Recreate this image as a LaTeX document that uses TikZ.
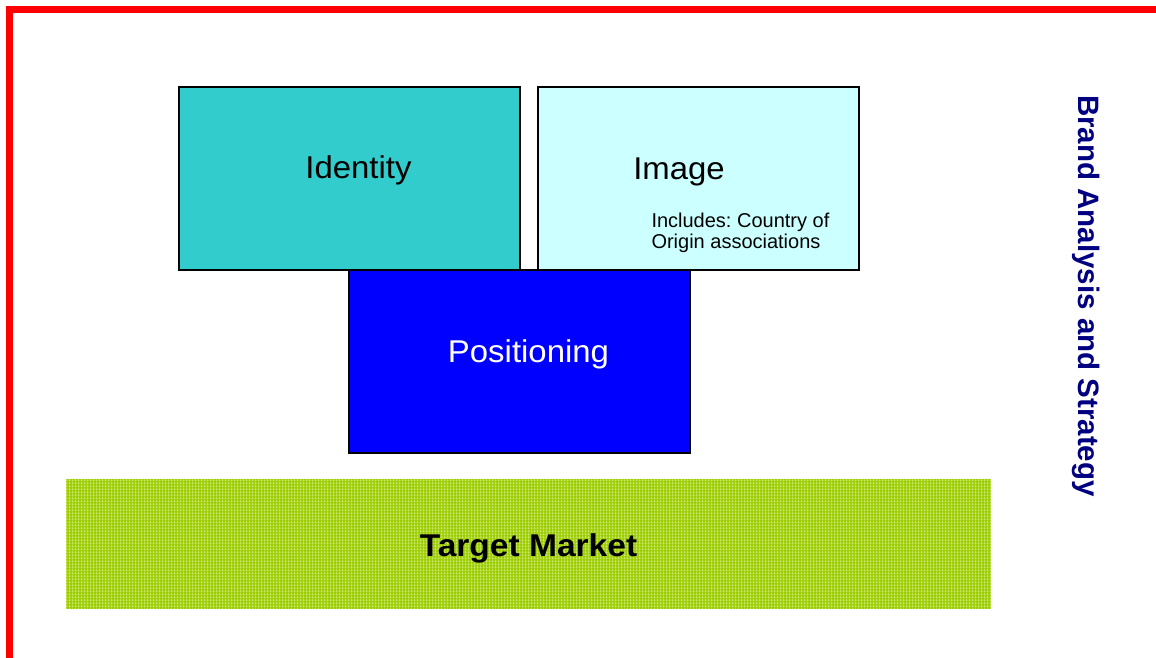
\documentclass[tikz,border=0pt]{standalone}
\usepackage{fontspec}
\setmainfont{Liberation Sans}
\newfontfamily\widefont[FakeStretch=1.045]{Liberation Sans}
\newfontfamily\widebold[FakeStretch=1.065]{Liberation Sans Bold}
\usetikzlibrary{patterns}
\definecolor{identc}{RGB}{51,204,204}
\definecolor{imagec}{RGB}{204,255,255}
\definecolor{posc}{RGB}{0,0,255}
\definecolor{tmgreen}{RGB}{158,206,8}
\definecolor{tmlight}{RGB}{212,236,130}
\definecolor{navyc}{RGB}{0,0,128}
\definecolor{framered}{RGB}{255,0,0}
\pgfdeclarepatternformonly{tmgrid}{\pgfqpoint{0pt}{0pt}}{\pgfqpoint{3pt}{3pt}}{\pgfqpoint{3pt}{3pt}}{%
  \pgfpathrectangle{\pgfqpoint{0pt}{0pt}}{\pgfqpoint{0.7pt}{3pt}}%
  \pgfpathrectangle{\pgfqpoint{0.7pt}{0pt}}{\pgfqpoint{2.3pt}{0.5pt}}%
  \pgfusepath{fill}}
\frenchspacing
\begin{document}
\begin{tikzpicture}[x=1pt,y=1pt,
  box/.style={draw=black, line width=1.6pt, inner sep=0pt, outer sep=0pt},
  bigtext/.style={font=\widefont\fontsize{31.5}{37}\selectfont, inner sep=0pt, outer sep=0pt, anchor=base},
  smalltext/.style={font=\fontsize{20}{24}\selectfont, inner sep=0pt, outer sep=0pt, anchor=base west},
  sidetext/.style={font=\fontsize{29.5}{35}\selectfont\bfseries, text=navyc, inner sep=0pt, outer sep=0pt, anchor=base, rotate=-90}
]
\useasboundingbox (0,0) rectangle (1156,658);
\fill[white] (0,0) rectangle (1156,658);
% red frame
\draw[framered, line width=7pt, line join=miter] (1170,648.5) -- (9.5,648.5) -- (9.5,-10);
% target market band
\node[inner sep=0pt, outer sep=0pt, minimum width=925pt, minimum height=130pt, fill=tmgreen] (tm) at (528.5,114) {};
\fill[pattern=tmgrid, pattern color=tmlight] (tm.south west) rectangle (tm.north east);
\node[bigtext, font=\widebold\fontsize{31.5}{37}\selectfont] (tmtext) at (528.5,101.3) {Target Market};
% boxes
\node[box, fill=identc, minimum width=341pt, minimum height=183pt] (identity) at (349.5,479.5) {};
\node[box, fill=imagec, minimum width=321pt, minimum height=183pt] (image) at (698.5,479.5) {};
\node[box, fill=posc, minimum width=341pt, minimum height=183pt] (positioning) at (519.5,296.5) {};
% texts
\node[bigtext] (identitytext) at (358.5,479.7) {Identity};
\node[bigtext] (imagetext) at (679,478.7) {Image};
\node[smalltext] (incl1) at (651.5,430.3) {Includes: Country of};
\node[smalltext] (incl2) at (651.5,409.9) {Origin associations};
\node[bigtext, text=white] (postext) at (528.5,295) {Positioning};
% side title
\node[sidetext] (side) at (1078,362) {Brand Analysis and Strategy};
\end{tikzpicture}
\end{document}
